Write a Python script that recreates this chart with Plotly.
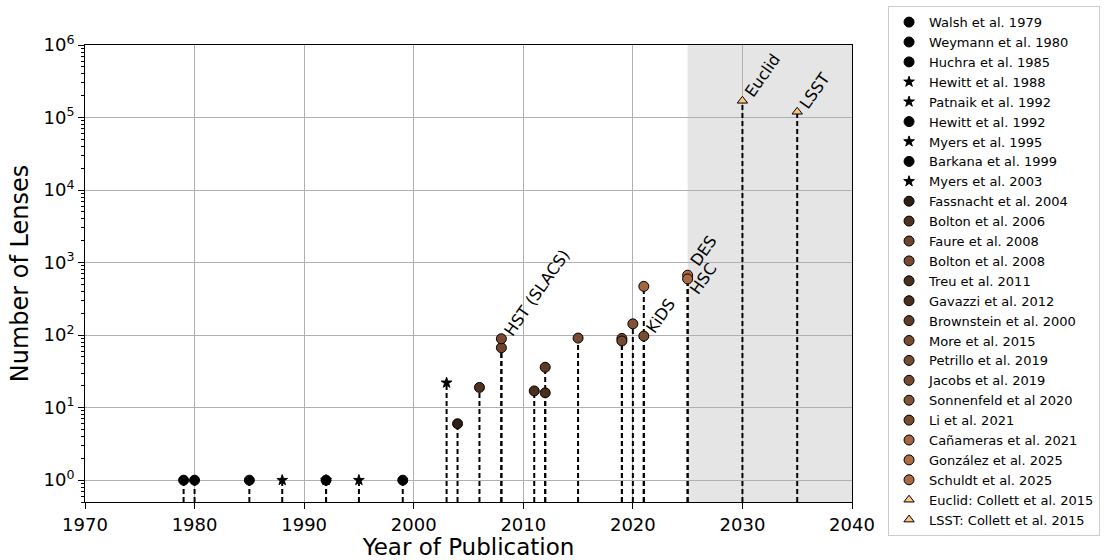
import plotly.graph_objects as go
import numpy as np

# ---- data ----
names = [
    "Walsh et al. 1979", "Weymann et al. 1980", "Huchra et al. 1985",
    "Hewitt et al. 1988", "Patnaik et al. 1992", "Hewitt et al. 1992",
    "Myers et al. 1995", "Barkana et al. 1999", "Myers et al. 2003",
    "Fassnacht et al. 2004", "Bolton et al. 2006", "Faure et al. 2008",
    "Bolton et al. 2008", "Treu et al. 2011", "Gavazzi et al. 2012",
    "Brownstein et al. 2000", "More et al. 2015", "Petrillo et al. 2019",
    "Jacobs et al. 2019", "Sonnenfeld et al 2020", "Li et al. 2021",
    "Cañameras et al. 2021", "González et al. 2025", "Schuldt et al. 2025",
    "Euclid: Collett et al. 2015", "LSST: Collett et al. 2015",
]
years = [1979, 1980, 1985, 1988, 1992, 1992, 1995, 1999, 2003,
         2004, 2006, 2008, 2008, 2011, 2012, 2012, 2015, 2019,
         2019, 2020, 2021, 2021, 2025, 2025, 2030, 2035]
n_lenses = [1, 1, 1, 1, 1, 1, 1, 1, 22,
            6, 19, 67, 89, 17, 16, 36, 91, 90,
            83, 143, 97, 470, 670, 595, 170000, 120000]
kinds = ["circle", "circle", "circle", "star", "star", "circle",
         "star", "circle", "star"] + ["circle"] * 15 + ["triangle-up"] * 2

# survey labels and the point each one is attached to
label_text = ["HST (SLACS)", "KiDS", "DES", "HSC", "Euclid", "LSST"]
label_point = [12, 20, 22, 23, 24, 25]

# ---- styles ----
colors = ["#000000"] * 9 + [
    "#2f1e13", "#4e311f", "#6f462c", "#774a2f", "#4b2f1e", "#4a2e1d",
    "#5f3b26", "#784b30", "#774b2f", "#75492f", "#835234", "#794c30",
    "#a36641", "#ac6c45", "#a96a43", "#ffc77f", "#ffc17b",
]
label_yanchor = ["bottom", "bottom", "bottom", "middle", "bottom", "bottom"]
label_yshift = [-3, -3, 3, 0, -3, -3]
marker_size = {"circle": 10, "star": 8, "triangle-up": 9}

font = "DejaVu Sans"
fig = go.Figure()

# dashed stems from the bottom of the axis up to each point
sx, sy = [], []
for x, n in zip(years, n_lenses):
    sx += [x, x, None]
    sy += [0.3, n, None]
fig.add_trace(go.Scatter(x=sx, y=sy, mode="lines", showlegend=False,
                         hoverinfo="skip",
                         line=dict(color="black", width=2, dash="5px,3px")))

for i, (nm, x, n, k, c) in enumerate(zip(names, years, n_lenses, kinds, colors)):
    fig.add_trace(go.Scatter(
        x=[x], y=[n], mode="markers", name=nm, legendgroup=f"g{i}",
        marker=dict(symbol=k, size=marker_size[k], color=c,
                    line=dict(color="black", width=1)),
    ))

anns = []
for t, p, ya, ys in zip(label_text, label_point, label_yanchor, label_yshift):
    anns.append(dict(x=years[p], y=np.log10(n_lenses[p]), xref="x", yref="y",
                     text=t, showarrow=False, textangle=-55,
                     xanchor="left", yanchor=ya, xshift=-4, yshift=ys,
                     font=dict(family=font, size=16, color="black")))

fig.add_shape(type="rect", xref="x", yref="paper", x0=2025, x1=2040,
              y0=0, y1=1, fillcolor="#e5e5e5", line_width=0, layer="below")

fig.update_layout(
    width=1105, height=560,
    margin=dict(l=85, r=253, t=45, b=58, autoexpand=False),
    plot_bgcolor="white", paper_bgcolor="white",
    font=dict(family=font, color="black"),
    annotations=anns,
    showlegend=True,
    legend=dict(x=1.047, y=1.085, xanchor="left", yanchor="top",
                font=dict(family=font, size=13, color="black"),
                bordercolor="#cccccc", borderwidth=1,
                tracegroupgap=0.3, traceorder="normal",
                maxheight=560),
    xaxis=dict(range=[1970, 2040], tick0=1970, dtick=10,
               ticks="outside", ticklen=6, tickcolor="black",
               tickfont=dict(size=18, family=font),
               showgrid=True, gridcolor="#b0b0b0", gridwidth=1,
               showline=True, mirror=True, linecolor="black", linewidth=1,
               zeroline=False,
               title=dict(text="Year of Publication",
                          font=dict(size=23, family=font), standoff=12)),
    yaxis=dict(type="log", range=[np.log10(0.5), 6],
               tickvals=[1, 10, 100, 1e3, 1e4, 1e5, 1e6],
               ticktext=[f"10<sup>{p}</sup>" for p in range(7)],
               ticks="outside", ticklen=6, tickcolor="black",
               tickfont=dict(size=18, family=font),
               minor=dict(ticks="outside", ticklen=3, tickcolor="black",
                          dtick="D1", showgrid=False),
               showgrid=True, gridcolor="#b0b0b0", gridwidth=1,
               showline=True, mirror=True, linecolor="black", linewidth=1,
               zeroline=False,
               title=dict(text="Number of Lenses",
                          font=dict(size=24, family=font), standoff=8)),
)

fig.write_html("out.html")
